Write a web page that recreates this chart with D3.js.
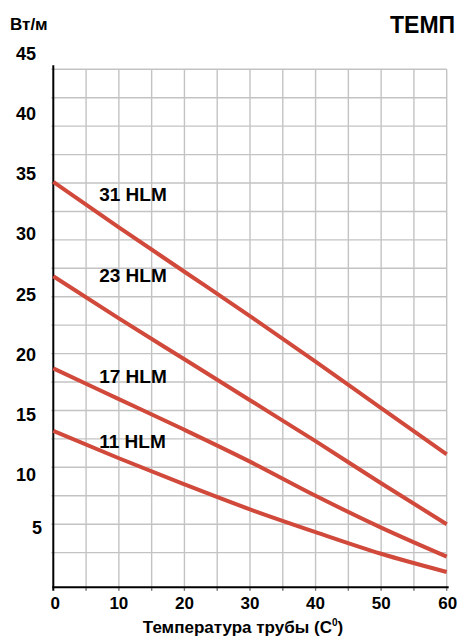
<!DOCTYPE html>
<html>
<head>
<meta charset="utf-8">
<script src="https://cdn.jsdelivr.net/npm/d3@7"></script>
<style>
html,body{margin:0;padding:0;background:#fff;}
svg{display:block;}
text{font-family:"Liberation Sans",Arial,sans-serif;font-weight:bold;fill:#000;}
</style>
</head>
<body>
<script>
// ---- data ----
const temps = [0, 10, 20, 30, 40, 50, 60];
const seriesNames = ["31 HLM", "23 HLM", "17 HLM", "11 HLM"];
const s31 = [35.1, 31.1, 27.2, 23.3, 19.3, 15.2, 11.15];
const s23 = [26.8, 23.1, 19.5, 15.9, 12.3, 8.6, 5.0];
const s17 = [18.7, 16.0, 13.3, 10.5, 7.5, 4.7, 2.15];
const s11 = [13.2, 10.8, 8.5, 6.3, 4.3, 2.4, 0.8];
const seriesValues = [s31, s23, s17, s11];
const labelAt = [{t: 7, v: 33.4}, {t: 7, v: 26.3}, {t: 7, v: 17.4}, {t: 7, v: 11.7}];
const yTickLabels = [5, 10, 15, 20, 25, 30, 35, 40, 45];
const xTickLabels = [0, 10, 20, 30, 40, 50, 60];
const yUnit = "Вт/м";
const topTitle = "ТЕМП";
const xTitle = "Температура трубы (C";
const xTitleSup = "0";

// ---- layout ----
const W = 459, H = 637;
const svg = d3.select("body").append("svg").attr("width", W).attr("height", H);

const x = d3.scaleLinear().domain([0, 60]).range([53.3, 446.7]);
const y = d3.scaleLinear().domain([-0.55, 45]).range([587.3, 69.3]);
// label placement scale (tick labels in the original are set slightly off the grid)
const yLab = d3.scaleLinear().domain([5, 10, 20, 45]).range([527.3, 474.3, 354.3, 53.3]);

const gridColor = "#c3c3c3";

// horizontal grid
const hVals = d3.range(2.5, 45.01, 2.5);
svg.append("g").selectAll("line").data(hVals).join("line")
  .attr("x1", x(0) - 2).attr("x2", x(60))
  .attr("y1", d => y(d)).attr("y2", d => y(d))
  .attr("stroke", gridColor).attr("stroke-width", 1.4);

// vertical grid
const vVals = d3.range(5, 60.01, 5);
svg.append("g").selectAll("line").data(vVals).join("line")
  .attr("x1", d => x(d)).attr("x2", d => x(d))
  .attr("y1", y(45)).attr("y2", y(-0.55) + 3.5)
  .attr("stroke", gridColor).attr("stroke-width", 1.4);

// x tick marks (below axis)
svg.append("g").selectAll("line").data(vVals).join("line")
  .attr("x1", d => x(d)).attr("x2", d => x(d))
  .attr("y1", y(-0.55)).attr("y2", y(-0.55) + 3.5)
  .attr("stroke", "#777").attr("stroke-width", 1.2);

// axes lines
svg.append("line").attr("x1", x(0)).attr("x2", x(0)).attr("y1", y(45) - 4).attr("y2", y(-0.55) + 3.5)
  .attr("stroke", "#000").attr("stroke-width", 2);
svg.append("line").attr("x1", x(0) - 1).attr("x2", x(60) + 2).attr("y1", y(-0.55)).attr("y2", y(-0.55))
  .attr("stroke", "#000").attr("stroke-width", 2);

// series lines
const line = d3.line().x((d, i) => x(temps[i])).y(d => y(d)).curve(d3.curveMonotoneX);
svg.append("g").selectAll("path").data(seriesValues).join("path")
  .attr("d", d => line(d))
  .attr("fill", "none").attr("stroke", "#d1493b").attr("stroke-width", 4);

// series labels
svg.append("g").selectAll("text").data(seriesNames).join("text")
  .attr("x", (d, i) => x(labelAt[i].t))
  .attr("y", (d, i) => y(labelAt[i].v))
  .attr("font-size", 19)
  .text(d => d);

// y tick labels
svg.append("g").selectAll("text").data(yTickLabels).join("text")
  .attr("x", d => String(d).length === 1 ? 37 : 26)
  .attr("y", d => yLab(d))
  .attr("dy", "0.36em")
  .attr("text-anchor", "middle")
  .attr("font-size", 18)
  .text(d => d);

// x tick labels
svg.append("g").selectAll("text").data(xTickLabels).join("text")
  .attr("x", d => x(d) + (d === 0 ? 2 : (d === 60 ? 1 : 0)))
  .attr("y", 608.5)
  .attr("text-anchor", "middle")
  .attr("font-size", 17)
  .text(d => d);

// unit label
svg.append("text").attr("x", 10).attr("y", 29.5).attr("font-size", 17).text(yUnit);

// top title
svg.append("text").attr("x", 390).attr("y", 33.3).attr("font-size", 23).text(topTitle);

// x title
const xt = svg.append("text").attr("x", 243).attr("y", 633.3).attr("text-anchor", "middle").attr("font-size", 17);
xt.append("tspan").text(xTitle);
xt.append("tspan").attr("font-size", 10).attr("dy", -7).text(xTitleSup);
xt.append("tspan").attr("dy", 7).text(")");
</script>
</body>
</html>
